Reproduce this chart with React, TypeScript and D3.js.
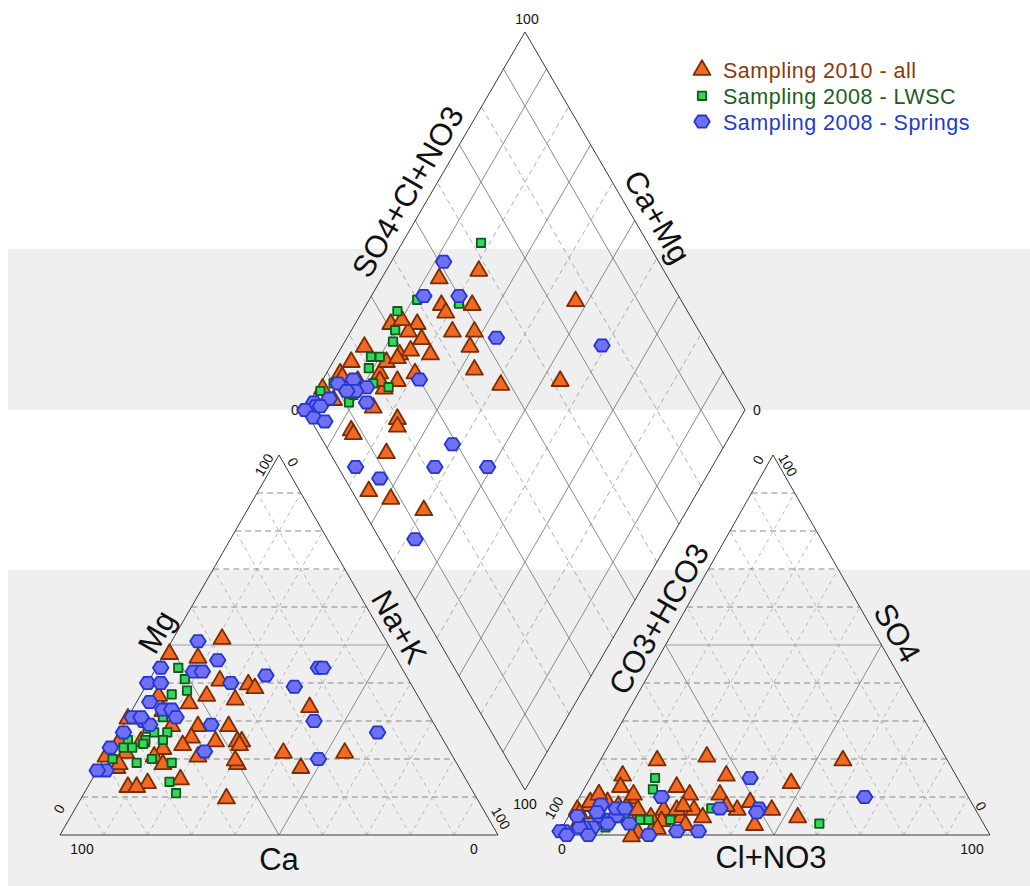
import React from "react";
import * as d3 from "d3";

type Pt = [number, number];

// ---- data (percent) ----
// cation triangle: [Ca, Mg]  (Na+K = 100 - Ca - Mg)
const cat2010: Pt[] = [
  [37, 52], [51, 48], [45, 47], [43, 41], [37, 40], [36, 39], [48, 37], [42, 36], [26, 34], [53, 35],
  [54, 29], [47, 29], [52, 25], [47, 25], [46, 25], [47, 24], [38, 22], [24, 22], [50, 19], [36, 18],
  [78, 18], [79, 21], [78, 13], [73, 14], [65, 15], [57, 10], [58, 21], [59, 37], [60, 33], [60, 29],
  [57, 26], [60, 24], [65, 23], [69, 25], [69, 31], [74, 25], [68, 21], [74, 22], [77, 19], [67, 19],
  [50, 20], [76, 13],
];
const catLWSC: Pt[] = [
  [51, 44], [51, 41], [52, 38], [56, 37], [61, 31], [66, 28], [62, 27], [64, 25], [72, 25], [68, 25],
  [72, 23], [73, 19], [69, 20], [65, 19], [78, 20], [68, 14], [68, 11], [65, 27], [74, 23], [69, 24],
];
const catSprings: Pt[] = [
  [43, 51], [41, 46], [55, 44], [19, 44], [18, 44], [48, 43], [46, 43], [32, 42], [41, 40], [27, 39],
  [60, 40], [57, 40], [62, 35], [60, 33], [58, 33], [58, 31], [68, 31], [66, 30], [65, 29], [51, 29],
  [27, 30], [14, 27], [72, 27], [77, 23], [81, 17], [83, 17], [56, 22], [31, 20], [66, 31],
];

// anion triangle: [Cl+NO3, SO4]  (CO3+HCO3 = 100 - the rest)
const an2010: Pt[] = [
  [13, 20], [24, 21], [56, 20], [31, 16], [47, 14], [32, 11], [40, 9], [53, 5], [44, 3], [46, 7],
  [38, 7], [28, 7], [7, 16], [8, 13], [4, 11], [21, 13], [25, 11], [3, 8], [1, 7], [7, 9],
  [12, 10], [21, 7], [26, 5], [18, 1], [21, 3], [3, 4], [6, 6], [11, 5], [16, 6], [22, 4],
  [31, 5], [2, 6], [3, 9], [4, 11], [12, 11], [13, 7], [10, 8], [15, 7], [19, 5], [22, 2],
  [17, 0], [24, 7], [25, 8], [28, 3], [35, 8],
];
const anLWSC: Pt[] = [
  [15, 15], [16, 12], [12, 7], [13, 5], [17, 4], [19, 4], [24, 4], [32, 7], [59, 3], [7, 2], [10, 2],
];
const anSprings: Pt[] = [
  [37, 15], [66, 10], [19, 10], [34, 7], [43, 7], [43, 6], [27, 1], [32, 1], [21, 0], [6, 8],
  [7, 5], [10, 4], [11, 5], [10, 3], [7, 2], [5, 2], [4, 2], [7, 0], [1, 1], [0, 1],
  [10, 7], [12, 7], [2, 5], [6, 6], [15, 3], [2, 0],
];

// diamond: [SO4+Cl+NO3, Ca+Mg]
const dia2010: Pt[] = [
  [58, 79], [48, 87], [45, 83], [45, 81], [52, 76], [76, 53], [44, 77], [49, 72], [46, 71], [44, 67],
  [48, 59], [62, 46], [36, 79], [36, 83], [37, 86], [34, 87], [31, 92], [29, 86], [32, 84], [22, 95],
  [17, 96], [30, 80], [25, 83], [21, 85], [13, 97], [7, 99], [16, 85], [22, 88], [13, 76], [4, 75],
  [8, 69], [14, 60], [20, 78], [8, 87], [19, 77], [8, 86], [34, 90], [25, 88], [13, 96], [16, 92],
  [21, 87], [8, 95], [28, 86],
];
const diaLWSC: Pt[] = [
  [62, 82], [40, 89], [34, 92], [31, 90], [29, 89], [22, 92], [24, 90], [20, 91], [22, 84], [19, 88],
  [6, 99], [11, 91], [10, 97], [49, 79], [13, 91], [16, 90],
];
const diaSprings: Pt[] = [
  [51, 88], [42, 88], [50, 80], [53, 66], [76, 41], [30, 78], [11, 96], [15, 93], [17, 89], [14, 91],
  [15, 87], [7, 96], [3, 99], [3, 98], [0, 100], [1, 97], [3, 94], [12, 93], [29, 62], [4, 81],
  [8, 74], [22, 63], [34, 51], [8, 58], [4, 97],
];

const legendLabels = ["Sampling 2010 - all", "Sampling 2008 - LWSC", "Sampling 2008 - Springs"];
const gridSteps = [10, 20, 30, 40, 50, 60, 70, 80, 90];

// ---- layout ----
const W = 1030;
const H = 886;
const FONT = "'Liberation Sans', Arial, sans-serif";

const frac = d3.scaleLinear().domain([0, 100]).range([0, 1]);

// affine ternary projector: v0 gets the remainder, v1 gets p1, v2 gets p2
const ternary = (v0: Pt, v1: Pt, v2: Pt) => (p1: number, p2: number): Pt => {
  const b = frac(p1), c = frac(p2), a = 1 - b - c;
  return [a * v0[0] + b * v1[0] + c * v2[0], a * v0[1] + b * v1[1] + c * v2[1]];
};

const L = { bl: [60, 835] as Pt, top: [279, 455] as Pt, br: [498, 835] as Pt };
const R = { bl: [558, 835] as Pt, top: [773, 455] as Pt, br: [990, 835] as Pt };
const D = { l: [305, 410] as Pt, t: [525, 32] as Pt, r: [745, 410] as Pt, b: [525, 790] as Pt };

const projL = ternary(L.bl, L.top, L.br); // (Mg, Na+K)
const projR = ternary(R.bl, R.top, R.br); // (SO4, Cl+NO3)
const projD = ternary(D.b, D.r, D.l); // (SO4+Cl+NO3, Ca+Mg)

const COL = {
  tri: { fill: "#f26a21", stroke: "#7a2d00", text: "#8a3a0c" },
  sq: { fill: "#35d65a", stroke: "#0f5a1c", text: "#1c5e22" },
  hex: { fill: "#6f70f2", stroke: "#2436d0", text: "#1f39d4" },
};

const triPath = d3.symbol(d3.symbolTriangle, 125)()!;
const sqPath = d3.symbol(d3.symbolSquare, 70)()!;
const hexPath = (() => {
  const r = 7.8;
  const pts = d3.range(6).map((i) => {
    const a = (Math.PI / 3) * i;
    return [r * Math.cos(a), r * 0.9 * Math.sin(a)] as Pt;
  });
  return d3.line()(pts)! + "Z";
})();

const Marker = ({ kind, p }: { kind: "tri" | "sq" | "hex"; p: Pt }) => {
  const d = kind === "tri" ? triPath : kind === "sq" ? sqPath : hexPath;
  const c = COL[kind];
  return (
    <path
      d={d}
      transform={`translate(${p[0]},${p[1] + (kind === "tri" ? 1.5 : 0)})`}
      fill={c.fill}
      stroke={c.stroke}
      strokeWidth={1.8}
      strokeLinejoin="round"
    />
  );
};

const seg = (a: Pt, b: Pt) => `M${a[0]},${a[1]}L${b[0]},${b[1]}`;

const TriangleGrid = ({ proj }: { proj: (p1: number, p2: number) => Pt }) => (
  <g fill="none">
    {gridSteps.map((k) => {
      const solid = k === 50;
      // parallel to base (apex component = k)
      const h = seg(proj(k, 0), proj(k, 100 - k));
      // parallel to left edge (right-vertex component = k)
      const dl = seg(proj(0, k), proj(100 - k, k));
      // parallel to right edge (left-vertex component = k)
      const dr = seg(proj(0, 100 - k), proj(100 - k, 0));
      return (
        <g key={k}>
          <path d={h} stroke={solid ? "#a0a0a0" : "#7a7a7a"} strokeWidth={solid ? 1.2 : 0.9} strokeDasharray={solid ? undefined : "6,4"} />
          <path d={dl} stroke={solid ? "#8a8a8a" : "#a8a8a8"} strokeWidth={solid ? 1 : 0.8} strokeDasharray={solid ? undefined : "4,4"} />
          <path d={dr} stroke={solid ? "#8a8a8a" : "#a8a8a8"} strokeWidth={solid ? 1 : 0.8} strokeDasharray={solid ? undefined : "4,4"} />
        </g>
      );
    })}
    <path d={`${seg(proj(0, 0), proj(100, 0))}L${proj(0, 100)[0]},${proj(0, 100)[1]}Z`} stroke="#3a3a3a" strokeWidth={1} />
  </g>
);

const DiamondGrid = () => (
  <g fill="none">
    {gridSteps.map((k) => {
      const solid = (k / 10) % 2 === 1;
      const st = solid
        ? { stroke: "#7d7d7d", strokeWidth: 0.9 }
        : { stroke: "#9a9a9a", strokeWidth: 0.8, strokeDasharray: "5,4" };
      return (
        <g key={k}>
          <path d={seg(projD(k, 0), projD(k, 100))} {...st} />
          <path d={seg(projD(0, k), projD(100, k))} {...st} />
        </g>
      );
    })}
    <path d={`M${D.l}L${D.t}L${D.r}L${D.b}Z`} stroke="#3a3a3a" strokeWidth={1} />
  </g>
);

const RotText = ({ x, y, angle, size, children }: { x: number; y: number; angle: number; size: number; children: React.ReactNode }) => (
  <text transform={`translate(${x},${y}) rotate(${angle})`} textAnchor="middle" dominantBaseline="central" fontSize={size} fontFamily={FONT} fill="#111">
    {children}
  </text>
);

export default function App() {
  const naOf = (d: Pt) => 100 - d[0] - d[1];
  return (
    <svg width={W} height={H} style={{ position: "absolute", left: 0, top: 0, background: "#fff" }}>
      {/* background bands */}
      <rect x={8} y={249} width={W - 8} height={161} fill="#efefef" />
      <rect x={8} y={570} width={W - 8} height={H - 570} fill="#efefef" />

      <DiamondGrid />
      <TriangleGrid proj={projL} />
      <TriangleGrid proj={projR} />

      {/* tick labels */}
      <g fontFamily={FONT} fontSize={14} fill="#111">
        <text x={D.t[0] + 2} y={D.t[1] - 8} textAnchor="middle">100</text>
        <text x={D.l[0] - 10} y={D.l[1] + 5} textAnchor="middle">0</text>
        <text x={D.r[0] + 12} y={D.r[1] + 5} textAnchor="middle">0</text>
        <text x={D.b[0]} y={D.b[1] + 19} textAnchor="middle">100</text>

        <text x={L.bl[0] + 22} y={L.bl[1] + 19} textAnchor="middle">100</text>
        <text x={L.br[0] - 24} y={L.br[1] + 19} textAnchor="middle">0</text>
        <text x={R.bl[0] + 4} y={R.bl[1] + 19} textAnchor="middle">0</text>
        <text x={R.br[0] - 18} y={R.br[1] + 19} textAnchor="middle">100</text>
      </g>
      <RotText x={L.top[0] - 15} y={L.top[1] + 10} angle={-60} size={14}>100</RotText>
      <RotText x={L.top[0] + 14} y={L.top[1] + 7} angle={60} size={14}>0</RotText>
      <RotText x={L.bl[0] - 1} y={L.bl[1] - 26} angle={-60} size={14}>0</RotText>
      <RotText x={L.br[0] + 3} y={L.br[1] - 17} angle={60} size={14}>100</RotText>
      <RotText x={R.top[0] - 15} y={R.top[1] + 5} angle={-60} size={14}>0</RotText>
      <RotText x={R.top[0] + 15} y={R.top[1] + 10} angle={60} size={14}>100</RotText>
      <RotText x={R.bl[0] - 4} y={R.bl[1] - 27} angle={-60} size={14}>100</RotText>
      <RotText x={R.br[0] - 9} y={R.br[1] - 29} angle={60} size={14}>0</RotText>

      {/* axis titles */}
      <RotText x={157} y={632} angle={-60} size={31}>Mg</RotText>
      <RotText x={399} y={627} angle={60} size={31}>Na+K</RotText>
      <text x={L.top[0]} y={870} textAnchor="middle" fontSize={31} fontFamily={FONT} fill="#111">Ca</text>
      <RotText x={659} y={619} angle={-60} size={31}>CO3+HCO3</RotText>
      <RotText x={897} y={633} angle={60} size={31}>SO4</RotText>
      <text x={771} y={868} textAnchor="middle" fontSize={31} fontFamily={FONT} fill="#111">Cl+NO3</text>
      <RotText x={408} y={192} angle={-60} size={31}>SO4+Cl+NO3</RotText>
      <RotText x={657} y={217} angle={60} size={31}>Ca+Mg</RotText>

      {/* points */}
      <g>
        {cat2010.map((d, i) => <Marker key={"c1" + i} kind="tri" p={projL(d[1], naOf(d))} />)}
        {an2010.map((d, i) => <Marker key={"a1" + i} kind="tri" p={projR(d[1], d[0])} />)}
        {dia2010.map((d, i) => <Marker key={"d1" + i} kind="tri" p={projD(d[0], d[1])} />)}
        {catLWSC.map((d, i) => <Marker key={"c2" + i} kind="sq" p={projL(d[1], naOf(d))} />)}
        {anLWSC.map((d, i) => <Marker key={"a2" + i} kind="sq" p={projR(d[1], d[0])} />)}
        {diaLWSC.map((d, i) => <Marker key={"d2" + i} kind="sq" p={projD(d[0], d[1])} />)}
        {catSprings.map((d, i) => <Marker key={"c3" + i} kind="hex" p={projL(d[1], naOf(d))} />)}
        {anSprings.map((d, i) => <Marker key={"a3" + i} kind="hex" p={projR(d[1], d[0])} />)}
        {diaSprings.map((d, i) => <Marker key={"d3" + i} kind="hex" p={projD(d[0], d[1])} />)}
      </g>

      {/* legend */}
      <g>
        {legendLabels.map((lab, i) => {
          const kind = (["tri", "sq", "hex"] as const)[i];
          const y = 70 + i * 25.8;
          return (
            <g key={lab}>
              <Marker kind={kind} p={[702, y - (kind === "tri" ? 1.5 : 0)]} />
              <text x={723} y={y + 8} fontSize={21.5} fontFamily={FONT} fill={COL[kind].text} letterSpacing={0.5}>
                {lab}
              </text>
            </g>
          );
        })}
      </g>
    </svg>
  );
}
